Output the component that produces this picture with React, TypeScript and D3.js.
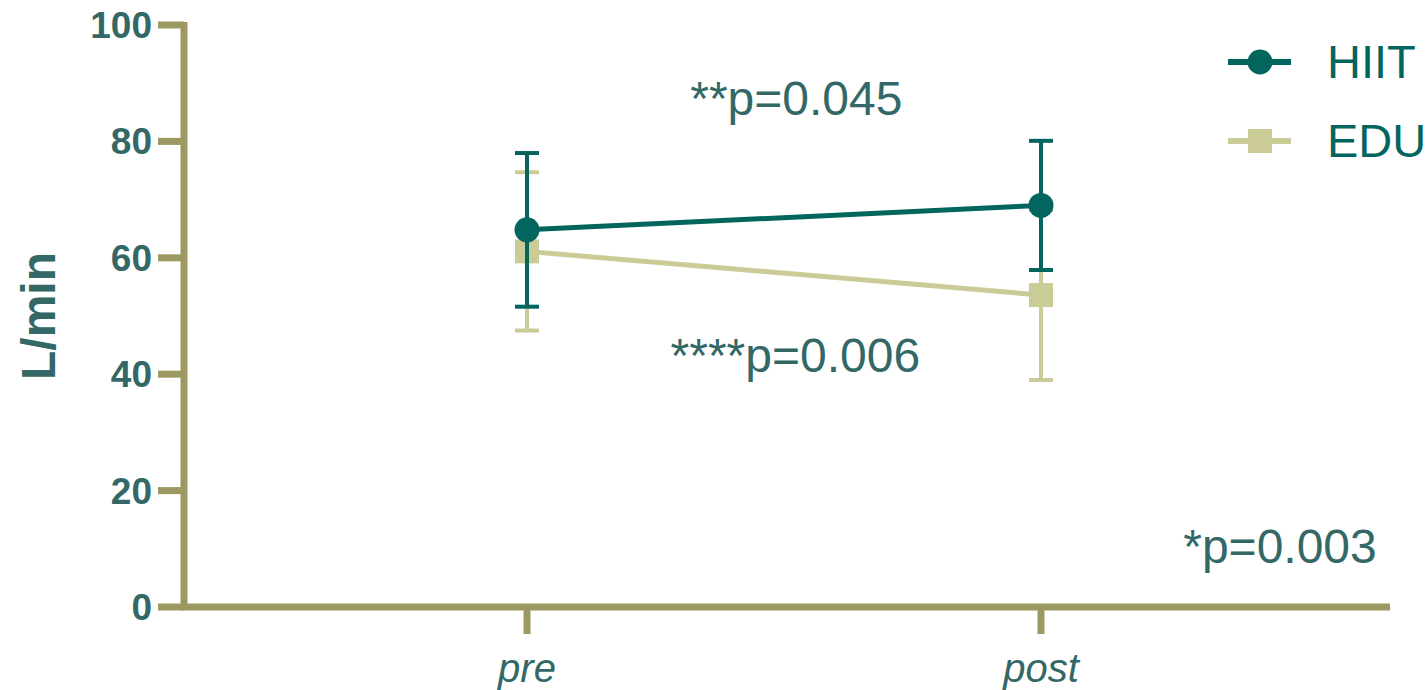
import React from 'react';
import * as d3 from 'd3';

const timepoints = ['pre', 'post'];
const hiitMean = [64.8, 69.0];
const hiitErr = [13.2, 11.1];
const eduMean = [61.1, 53.6];
const eduErr = [13.6, 14.6];
const yTicks = [0, 20, 40, 60, 80, 100];
// annotation positions: x as fraction of the pre->post distance, y in L/min
const annotations = [
  { text: '**p=0.045', x: 0.524, y: 84.5 },
  { text: '****p=0.006', x: 0.522, y: 40.4 },
  { text: '*p=0.003', x: 1.465, y: 7.6 },
];

const teal = '#02655e';
const khaki = '#cbcb98';
const axisCol = '#9c9862';
const textCol = '#336866';

const App = () => {
  const width = 1426;
  const height = 690;
  const x0 = 184;
  const x1 = 1390;

  const y = d3.scaleLinear().domain([0, 100]).range([607, 25]);
  const x = d3.scalePoint<string>().domain(timepoints).range([527, 1041]);
  const xa = d3.scaleLinear().domain([0, 1]).range([527, 1041]);

  const line = d3.line<number>()
    .x((d, i) => x(timepoints[i]) as number)
    .y(d => y(d));

  const errBars = (means: number[], errs: number[], color: string) =>
    means.map((m, i) => {
      const cx = x(timepoints[i]) as number;
      return (
        <g key={i} stroke={color} strokeWidth={4}>
          <line x1={cx} x2={cx} y1={y(m + errs[i])} y2={y(m - errs[i])} />
          <line x1={cx - 12} x2={cx + 12} y1={y(m + errs[i])} y2={y(m + errs[i])} />
          <line x1={cx - 12} x2={cx + 12} y1={y(m - errs[i])} y2={y(m - errs[i])} />
        </g>
      );
    });

  return (
    <svg width={width} height={height} style={{ position: 'absolute', left: 0, top: 0 }}
      fontFamily="'Liberation Sans', Arial, sans-serif">
      {/* axes */}
      <g stroke={axisCol} strokeWidth={7}>
        <line x1={x0} x2={x0} y1={22} y2={610} />
        <line x1={x0 - 3} x2={x1} y1={607} y2={607} />
        {yTicks.map(t => (
          <line key={t} x1={158} x2={x0} y1={y(t)} y2={y(t)} />
        ))}
        {timepoints.map(t => (
          <line key={t} x1={x(t)} x2={x(t)} y1={607} y2={634} />
        ))}
      </g>
      {yTicks.map(t => (
        <text key={t} x={152} y={y(t)} dy="0.35em" textAnchor="end" fontSize={37}
          fontWeight="bold" fill={textCol}>{t}</text>
      ))}
      {timepoints.map(t => (
        <text key={t} x={x(t)} y={682} textAnchor="middle" fontSize={40}
          fontStyle="italic" fill={textCol}>{t}</text>
      ))}
      <text transform="translate(55,316) rotate(-90)" textAnchor="middle" fontSize={48}
        fontWeight="bold" fill={textCol}>L/min</text>

      {/* EDU */}
      {errBars(eduMean, eduErr, khaki)}
      <path d={line(eduMean) || ''} fill="none" stroke={khaki} strokeWidth={5} />
      {eduMean.map((m, i) => (
        <rect key={i} x={(x(timepoints[i]) as number) - 12} y={y(m) - 12} width={24} height={24} fill={khaki} />
      ))}

      {/* HIIT */}
      {errBars(hiitMean, hiitErr, teal)}
      <path d={line(hiitMean) || ''} fill="none" stroke={teal} strokeWidth={5} />
      {hiitMean.map((m, i) => (
        <circle key={i} cx={x(timepoints[i]) as number} cy={y(m)} r={12.5} fill={teal} />
      ))}

      {/* annotations */}
      {annotations.map(a => (
        <text key={a.text} x={xa(a.x)} y={y(a.y)} textAnchor="middle" fontSize={48} fill={textCol}>{a.text}</text>
      ))}

      {/* legend */}
      <g>
        <line x1={1228} x2={1291} y1={62} y2={62} stroke={teal} strokeWidth={6} />
        <circle cx={1260} cy={62} r={12.5} fill={teal} />
        <text x={1327} y={78} fontSize={47} fill={teal}>HIIT</text>
        <line x1={1228} x2={1291} y1={141} y2={141} stroke={khaki} strokeWidth={6} />
        <rect x={1248} y={129} width={24} height={24} fill={khaki} />
        <text x={1327} y={157} fontSize={47} fill={teal}>EDU</text>
      </g>
    </svg>
  );
};

export default App;
